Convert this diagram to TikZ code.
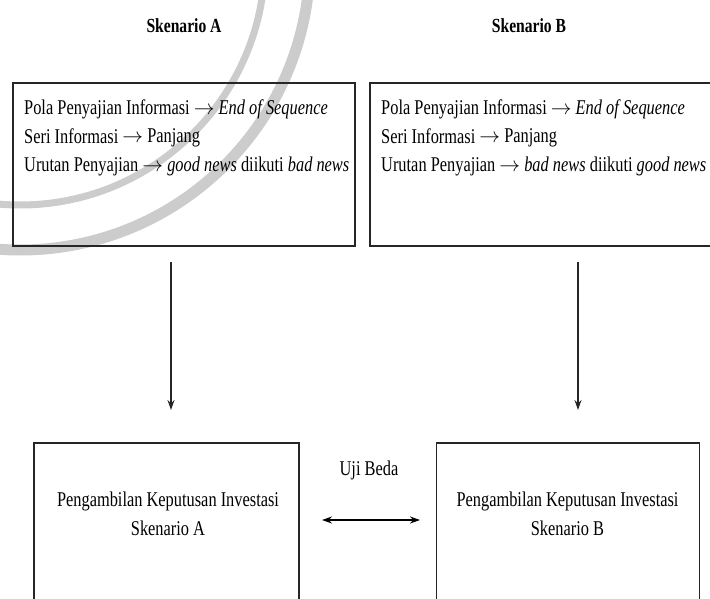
\documentclass[tikz,border=0pt]{standalone}
\usepackage{fontspec}
\setmainfont[FakeStretch=0.78]{Liberation Serif}
\usepackage{tikz}
\usetikzlibrary{arrows.meta, positioning}

\begin{document}
\begin{tikzpicture}[x=1pt, y=-1pt, >={Stealth[length=10pt,width=7pt]},
    kotak/.style={draw=black!85, line width=1.4pt, inner sep=0pt},
    isi/.style={font=\fontsize{21}{29}\selectfont, align=left, inner sep=0pt},
    judul/.style={font=\fontsize{20}{24}\selectfont\bfseries, inner sep=0pt}]
    \clip (0,0) rectangle (710,599);

    % latar (logo samar)
    \draw[gray!40, line width=11pt] (20,-40) circle[radius=290];
    \draw[gray!40, line width=7pt] (20,-40) circle[radius=245];

    % skenario atas
    \node[judul, anchor=base] (judulA) at (184,33) {Skenario A};
    \node[judul, anchor=base] (judulB) at (529,33) {Skenario B};

    \node[kotak, minimum width=342pt, minimum height=163pt] (boxA) at (184,164.5) {};
    \node[kotak, minimum width=350pt, minimum height=163pt] (boxB) at (545,164.5) {};

    \node[isi, anchor=base west] (infoA) at (24,172)
        {Pola Penyajian Informasi $\rightarrow$ \textit{End of Sequence}\\
         Seri Informasi $\rightarrow$ Panjang\\
         Urutan Penyajian $\rightarrow$ \textit{good news} diikuti \textit{bad news}};
    \node[isi, anchor=base west] (infoB) at (381,172)
        {Pola Penyajian Informasi $\rightarrow$ \textit{End of Sequence}\\
         Seri Informasi $\rightarrow$ Panjang\\
         Urutan Penyajian $\rightarrow$ \textit{bad news} diikuti \textit{good news}};

    % keputusan bawah
    \node[kotak, minimum width=265pt, minimum height=200pt] (kepA) at (166.5,543) {};
    \node[kotak, minimum width=263pt, minimum height=200pt] (kepB) at (568,543) {};

    \node[isi, align=center, anchor=base] (teksA) at (168,535)
        {Pengambilan Keputusan Investasi\\ Skenario A};
    \node[isi, align=center, anchor=base] (teksB) at (567.5,535)
        {Pengambilan Keputusan Investasi\\ Skenario B};

    % panah
    \coordinate (a1) at (171,262);
    \coordinate (a2) at (171,410);
    \coordinate (b1) at (578,262);
    \coordinate (b2) at (578,410);
    \draw[->, line width=1.2pt, black!85] (a1) -- (a2);
    \draw[->, line width=1.2pt, black!85] (b1) -- (b2);

    \coordinate (u1) at (322,520);
    \coordinate (u2) at (420,520);
    \draw[<->, line width=1.8pt] (u1) -- (u2);
    \node[isi, anchor=base] (uji) at (369,475) {Uji Beda};
\end{tikzpicture}
\end{document}
